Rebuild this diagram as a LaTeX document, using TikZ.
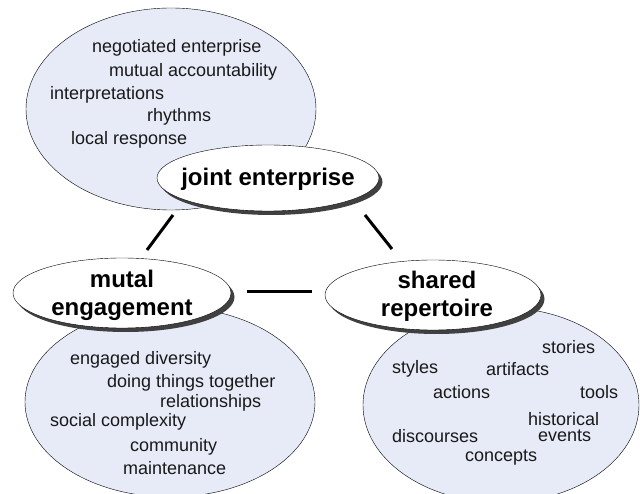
\documentclass[tikz,border=0pt]{standalone}
\usepackage{fontspec}
\setmainfont{Liberation Sans}
\usetikzlibrary{positioning, shapes.geometric, shadows}

\definecolor{areablue}{RGB}{230,235,247}
\definecolor{shadowgray}{RGB}{64,64,64}

\begin{document}
\begin{tikzpicture}[x=1pt, y=-1pt,
    area/.style={draw, thin, fill=areablue, shape=ellipse, inner sep=0pt},
    pillar/.style={draw, thin, fill=white, shape=ellipse, inner sep=0pt, minimum width=220pt, minimum height=68pt,
        drop shadow={shadow xshift=3.5pt, shadow yshift=-4pt, fill=shadowgray, opacity=1}},
    title/.style={font=\fontsize{24}{27}\selectfont\bfseries, align=center, inner sep=0pt},
    item/.style={font=\fontsize{18}{20}\selectfont, anchor=west, inner sep=0pt, text=black!90},
    link/.style={line width=3pt}
]
    \useasboundingbox (0,0) rectangle (640,494);

    % Joint enterprise
    \node[area, minimum width=290pt, minimum height=202pt] (JEarea) at (171,109) {};
    \node[item] (JE1) at (92,48) {negotiated enterprise};
    \node[item] (JE2) at (109,72) {mutual accountability};
    \node[item] (JE3) at (50,95) {interpretations};
    \node[item] (JE4) at (147,117) {rhythms};
    \node[item] (JE5) at (71,140) {local response};

    % Mutual engagement
    \node[area, minimum width=290pt, minimum height=190pt] (MEarea) at (170,402) {};
    \node[item] (ME1) at (70,360) {engaged diversity};
    \node[item] (ME2) at (107,383) {doing things together};
    \node[item] (ME3) at (160,403) {relationships};
    \node[item] (ME4) at (50,422) {social complexity};
    \node[item] (ME5) at (130,447) {community};
    \node[item] (ME6) at (123,468) {maintenance};

    % Shared repertoire
    \node[area, minimum width=276pt, minimum height=195pt] (SRarea) at (501,405) {};
    \node[item] (SR1) at (542,347) {stories};
    \node[item] (SR2) at (392,369) {styles};
    \node[item] (SR3) at (486,369) {artifacts};
    \node[item] (SR4) at (433,392) {actions};
    \node[item] (SR5) at (580,392) {tools};
    \node[item] (SR6) at (528,419) {historical};
    \node[item] (SR7) at (538,436) {events};
    \node[item] (SR8) at (392,436) {discourses};
    \node[item] (SR9) at (465,458) {concepts};

    % Pillars
    \node[pillar, minimum width=222pt, minimum height=66pt] (joint) at (268,178) {};
    \node[title] at ([yshift=-1pt]joint.center) {joint enterprise};
    \node[pillar, minimum width=218pt, minimum height=70pt] (mutal) at (122,293) {};
    \node[title] at ([yshift=-2pt]mutal.center) {mutal\\[1pt]engagement};
    \node[pillar, minimum width=216pt, minimum height=70pt] (shared) at (433,295) {};
    \node[title] at ([xshift=4pt, yshift=-1pt]shared.center) {shared\\[1pt]repertoire};

    % Connectors
    \coordinate (JMa) at (173,215);
    \coordinate (JMb) at (147,250);
    \coordinate (JSa) at (365,215);
    \coordinate (JSb) at (392,249);
    \coordinate (MSa) at (247,292);
    \coordinate (MSb) at (312,292);
    \draw[link] (JMa) -- (JMb);
    \draw[link] (JSa) -- (JSb);
    \draw[link] (MSa) -- (MSb);

\end{tikzpicture}
\end{document}
